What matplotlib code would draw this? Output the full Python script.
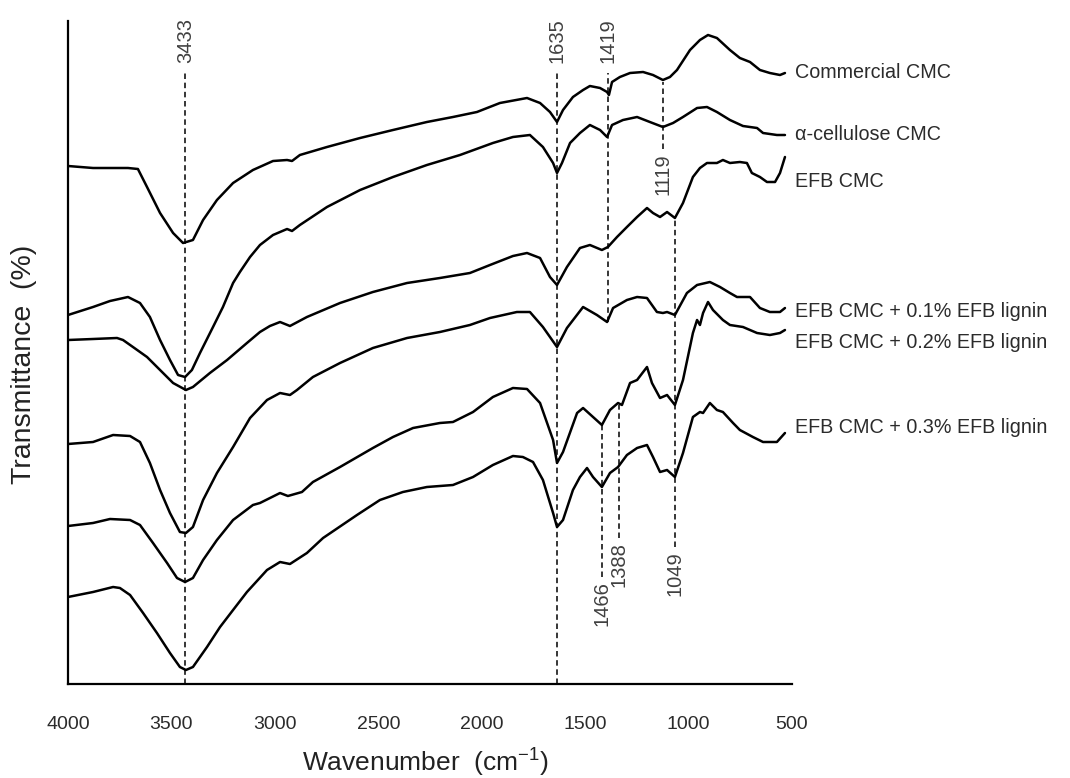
import matplotlib
matplotlib.use("Agg")
import matplotlib.pyplot as plt
import matplotlib.transforms as mtransforms

plt.rcParams['font.family'] = ['Liberation Sans', 'DejaVu Sans']
plt.rcParams['mathtext.fontset'] = 'custom'
plt.rcParams['mathtext.rm'] = 'Liberation Sans'
plt.rcParams['mathtext.it'] = 'Liberation Sans:italic'

# ---------------- data (wavenumber cm-1, transmittance in arbitrary offset units) ----------------
wn_commercial = [4000, 3879, 3782, 3710, 3662, 3618, 3555, 3492, 3444, 3396, 3347, 3280, 3202, 3106, 3009,
                 2941, 2917, 2879, 2748, 2588, 2429, 2265, 2139, 2023, 1912, 1781, 1718, 1670, 1636, 1607,
                 1559, 1510, 1477, 1428, 1394, 1385, 1370, 1332, 1283, 1220, 1172, 1124, 1090, 1056, 993,
                 945, 906, 863, 800, 752, 703, 655, 607, 558, 534]
t_commercial = [518, 516, 516, 516, 515, 497, 471, 451, 441, 444, 464, 484, 501, 514, 523,
                524, 523, 529, 537, 546, 554, 562, 567, 572, 581, 586, 581, 572, 562, 574,
                587, 594, 598, 596, 592, 589, 602, 607, 611, 612, 609, 604, 607, 614, 634,
                644, 649, 646, 634, 626, 622, 614, 611, 609, 611]

wn_alpha = [4000, 3879, 3797, 3710, 3652, 3604, 3555, 3507, 3468, 3434, 3401, 3362, 3299, 3251, 3202,
            3169, 3120, 3072, 3009, 2941, 2917, 2879, 2748, 2588, 2429, 2265, 2105, 1946, 1849, 1767,
            1704, 1655, 1636, 1612, 1573, 1525, 1477, 1428, 1394, 1370, 1317, 1249, 1187, 1124, 1075,
            1027, 959, 911, 863, 800, 737, 669, 640, 573, 534]
t_alpha = [369, 377, 383, 387, 381, 367, 344, 324, 309, 307, 314, 331, 357, 377, 401,
           412, 427, 439, 449, 455, 453, 459, 477, 494, 507, 519, 529, 541, 547, 549,
           537, 521, 511, 521, 541, 551, 559, 554, 547, 559, 564, 567, 562, 557, 561,
           567, 576, 577, 572, 564, 558, 556, 551, 549, 549]

wn_efb = [4000, 3879, 3763, 3734, 3686, 3618, 3555, 3492, 3430, 3396, 3314, 3231, 3135, 3072, 3024,
          2975, 2927, 2845, 2685, 2526, 2361, 2202, 2057, 1960, 1849, 1781, 1718, 1670, 1636, 1588,
          1525, 1477, 1419, 1390, 1346, 1298, 1249, 1201, 1172, 1138, 1104, 1066, 1027, 979, 945,
          911, 863, 834, 800, 752, 718, 694, 655, 621, 582, 558, 534]
t_efb = [344, 345, 346, 344, 337, 327, 314, 301, 294, 297, 311, 324, 341, 352, 358,
         362, 358, 367, 381, 392, 401, 406, 411, 419, 428, 431, 426, 407, 399, 417,
         436, 439, 434, 437, 447, 457, 467, 476, 471, 467, 472, 466, 481, 507, 516,
         521, 521, 524, 521, 522, 521, 511, 507, 502, 502, 511, 527]

wn_lig01 = [4000, 3879, 3782, 3700, 3652, 3604, 3555, 3507, 3459, 3430, 3396, 3347, 3280, 3202, 3120,
            3038, 2975, 2927, 2893, 2816, 2685, 2526, 2361, 2202, 2057, 1960, 1830, 1767, 1704, 1670,
            1636, 1588, 1510, 1443, 1394, 1365, 1298, 1249, 1201, 1153, 1124, 1104, 1066, 1008, 959,
            897, 848, 800, 766, 703, 655, 607, 558, 534]
t_lig01 = [240, 242, 249, 248, 242, 221, 194, 171, 152, 151, 157, 184, 211, 237, 266,
           284, 291, 289, 294, 307, 321, 336, 346, 352, 359, 366, 372, 372, 357, 347,
           337, 356, 377, 369, 362, 376, 384, 387, 386, 372, 371, 372, 369, 391, 399,
           402, 397, 391, 387, 387, 376, 372, 372, 376]

wn_lig02 = [4000, 3879, 3797, 3700, 3652, 3589, 3521, 3473, 3434, 3396, 3347, 3280, 3202, 3106, 3072,
            2975, 2937, 2869, 2816, 2685, 2526, 2429, 2332, 2202, 2139, 2042, 1946, 1849, 1781, 1718,
            1655, 1636, 1607, 1539, 1510, 1419, 1380, 1341, 1322, 1283, 1249, 1201, 1177, 1138, 1104,
            1066, 1027, 979, 959, 945, 930, 906, 882, 834, 800, 737, 669, 607, 558, 534]
t_lig02 = [158, 161, 165, 164, 159, 141, 121, 106, 102, 106, 124, 144, 164, 179, 181,
           191, 188, 192, 202, 217, 236, 247, 256, 261, 262, 272, 287, 296, 295, 281,
           244, 221, 232, 271, 276, 259, 274, 281, 279, 301, 304, 317, 301, 286, 289,
           279, 304, 351, 364, 359, 371, 382, 374, 364, 359, 357, 351, 349, 351, 354]

wn_lig03 = [4000, 3879, 3782, 3749, 3700, 3637, 3570, 3507, 3459, 3430, 3396, 3328, 3265, 3202, 3135,
            3038, 2975, 2927, 2845, 2767, 2603, 2492, 2381, 2265, 2139, 2042, 1946, 1849, 1801, 1752,
            1704, 1655, 1636, 1607, 1559, 1525, 1491, 1462, 1419, 1380, 1341, 1298, 1249, 1201, 1172,
            1138, 1104, 1066, 1027, 979, 945, 930, 897, 863, 834, 785, 752, 689, 640, 573, 534]
t_lig03 = [87, 92, 97, 96, 89, 71, 51, 31, 17, 14, 17, 37, 57, 74, 92,
           114, 122, 120, 131, 146, 169, 184, 192, 197, 199, 207, 219, 228, 227, 222,
           204, 171, 157, 164, 194, 207, 216, 207, 197, 211, 217, 229, 236, 239, 227,
           212, 214, 207, 231, 267, 272, 271, 281, 274, 272, 261, 254, 247, 242, 242, 251]

series_names = ['Commercial CMC', 'α-cellulose CMC', 'EFB CMC',
                'EFB CMC + 0.1% EFB lignin', 'EFB CMC + 0.2% EFB lignin', 'EFB CMC + 0.3% EFB lignin']
name_levels = [606, 544, 497, 367, 336, 251]

# peak annotations (label text, drawn position, dashed line extent)
peak_labels = ['3433', '1635', '1419', '1119', '1049', '1466', '1388']
peak_pos = [3433, 1635, 1390, 1124, 1066, 1419, 1337]
peak_top = [611, 611, 611, 602, 467, 259, 279]
peak_bottom = [0, 0, 362, 535, 137, 107, 146]
peak_label_side = ['top', 'top', 'top', 'bottom', 'bottom', 'bottom', 'bottom']

xticks = [4000, 3500, 3000, 2500, 2000, 1500, 1000, 500]
xtick_labels = ['4000', '3500', '3000', '2500', '2000', '1500', '1000', '500']

# ---------------- figure ----------------
W, H = 1070, 778
fig = plt.figure(figsize=(W / 100, H / 100), dpi=100)
ax = fig.add_axes([68 / W, 94 / H, 724 / W, 663 / H])
ax.set_xlim(4000, 500)
ax.set_ylim(0, 663)

all_series = [(wn_commercial, t_commercial), (wn_alpha, t_alpha), (wn_efb, t_efb),
              (wn_lig01, t_lig01), (wn_lig02, t_lig02), (wn_lig03, t_lig03)]
for wn, t in all_series:
    ax.plot(wn, t, color='black', lw=1.8, solid_joinstyle='round', solid_capstyle='round', zorder=3)

text_color = '#2b2b2b'
trans = mtransforms.blended_transform_factory(ax.transAxes, ax.transData)
for name, lvl in zip(series_names, name_levels):
    ax.text(1.004, lvl, name, transform=trans, ha='left', va='baseline',
            fontsize=14.2, color=text_color, clip_on=False)

for lab, pos, top, bot, side in zip(peak_labels, peak_pos, peak_top, peak_bottom, peak_label_side):
    ax.plot([pos, pos], [bot, top], color='black', lw=1.1, ls=(0, (3.6, 2.4)), zorder=2)
    if side == 'top':
        ax.text(pos, top + 10, lab, rotation=90, ha='center', va='bottom',
                fontsize=14.5, color='#404040')
    else:
        ax.text(pos, bot - 4, lab, rotation=90, ha='center', va='top',
                fontsize=14.5, color='#404040')

for s in ['top', 'right']:
    ax.spines[s].set_visible(False)
for s in ['left', 'bottom']:
    ax.spines[s].set_linewidth(1.6)
    ax.spines[s].set_color('black')

ax.set_yticks([])
ax.set_xticks(xticks)
ax.set_xticklabels(xtick_labels)
ax.tick_params(axis='x', length=0, pad=23, labelsize=14, labelcolor=text_color)

fig.text(425 / W, 1 - 763 / H, 'Wavenumber  (cm$^{-1}$)', ha='center', va='center',
         fontsize=19, color='#222222')
fig.text(24 / W, 1 - 364 / H, 'Transmittance  (%)', ha='center', va='center', rotation=90,
         fontsize=20.5, color='#222222')

fig.savefig('out.png', dpi=100)
